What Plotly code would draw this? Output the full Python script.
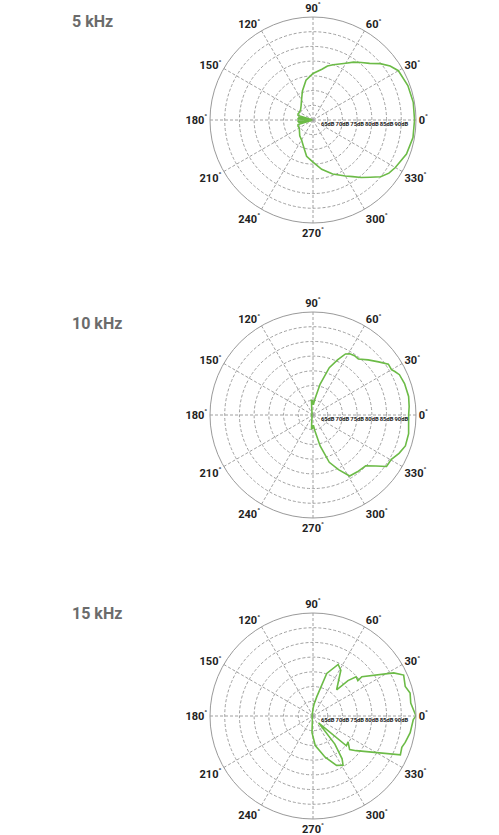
import plotly.graph_objects as go

# ---------------- data ----------------
titles = ["5 kHz", "10 kHz", "15 kHz"]

theta_5k = [0, 10, 20, 30, 35, 40, 45, 50, 55, 60, 70, 75, 80, 90, 100, 110, 120, 130, 140,
            150, 158, 163, 166, 170, 176, 180, 184, 190, 194, 197, 202, 210, 220, 230, 240,
            250, 260, 270, 280, 290, 300, 305, 310, 315, 320, 325, 330, 340, 350, 360]
r_5k = [94.5, 94.6, 94.3, 93.5, 92.0, 89.8, 87.2, 85.5, 84.0, 82.3, 80.0, 79.0, 77.5, 75.8,
        73.7, 70.5, 67.8, 66.3, 65.5, 65.3, 65.5, 65.3, 60.3, 64.8, 65.2, 60.2, 65.2, 64.8,
        60.3, 65.3, 65.5, 65.4, 66.0, 67.0, 67.8, 69.5, 72.5, 74.3, 77.0, 79.5, 82.0, 83.5,
        85.5, 87.5, 90.0, 91.5, 92.3, 93.8, 94.5, 94.5]

theta_10k = [0, 5, 11, 19, 25, 28, 30, 34, 39, 45, 51, 55, 59, 62, 66, 71, 77, 83, 88, 92,
             96, 100, 110, 130, 180, 230, 250, 260, 264, 268, 272, 277, 283, 289, 295, 301,
             308, 316, 321, 325, 330.5, 336, 341.5, 349, 360]
r_10k = [92.5, 92.8, 93.1, 92.9, 92.4, 91.5, 90.8, 90.9, 88.7, 86.5, 84.5, 84.6, 84.3, 83.5,
         80.5, 77.0, 70.8, 65.6, 63.5, 64.8, 65.0, 62.5, 61.0, 60.5, 60.5, 60.5, 61.0, 62.5,
         64.8, 64.5, 63.5, 65.5, 70.8, 77.0, 80.5, 84.2, 84.5, 84.9, 87.5, 90.5, 90.6, 92.0,
         93.1, 93.1, 92.5]

theta_15k = [0, 7.5, 13.3, 17.7, 24.3, 28.1, 38.8, 38.2, 42.3, 45.3, 48, 58.7, 64, 72.1,
             78.7, 85, 90, 100, 120, 180, 240, 255, 262, 266.6, 274.4, 286.4, 295.5, 301.4,
             304.2, 307.9, 309, 318.3, 323.6, 317.4, 321.2, 336, 340.6, 344, 350.3, 358, 360]
r_15k = [95.0, 93.5, 93.9, 92.9, 93.8, 91.1, 81.3, 79.4, 79.8, 76.9, 72.0, 78.2, 79.5, 75.2,
         66.8, 64.0, 62.5, 61.0, 60.5, 60.3, 60.5, 61.0, 61.5, 65.7, 70.1, 74.6, 78.6, 79.6,
         77.6, 72.1, 63.0, 75.2, 74.8, 76.9, 78.8, 92.5, 92.0, 92.6, 93.5, 94.1, 95.0]

angle_ticks = [0, 30, 60, 90, 120, 150, 180, 210, 240, 270, 300, 330]
angle_labels = [f"{a}<sup>°</sup>" for a in angle_ticks]
db_ticks = [65, 70, 75, 80, 85, 90]
db_labels = [f"{d}dB" for d in db_ticks]
db_range = [60, 95]

series = [(theta_5k, r_5k), (theta_10k, r_10k), (theta_15k, r_15k)]

# ---------------- layout geometry ----------------
W, H = 499, 835
R = 103
cx = 313
centers_y = [120, 415, 716]
title_y = [21, 323, 613]

LINE_GREEN = "#6cbb47"
GRID = "#a0a0a0"
FONT = "Roboto, Liberation Sans, sans-serif"

fig = go.Figure()
layout = dict(
    width=W, height=H,
    margin=dict(l=0, r=0, t=0, b=0),
    paper_bgcolor="white",
    showlegend=False,
    font=dict(family=FONT, color="#222"),
)

for i, (th, rr) in enumerate(series):
    pname = "polar" if i == 0 else f"polar{i+1}"
    fig.add_trace(go.Scatterpolar(
        theta=th, r=rr, mode="lines",
        line=dict(color=LINE_GREEN, width=1.6),
        subplot=pname, hoverinfo="skip",
    ))
    cy = centers_y[i]
    layout[pname] = dict(
        domain=dict(x=[(cx - R) / W, (cx + R) / W],
                    y=[(H - cy - R) / H, (H - cy + R) / H]),
        bgcolor="white",
        radialaxis=dict(
            range=db_range, tickvals=db_ticks, ticktext=db_labels,
            angle=0, tickangle=0, showline=False, ticks="",
            showgrid=True, gridcolor=GRID, gridwidth=0.8, griddash="3px,2px",
            tickfont=dict(size=5.8, color="#222", family=FONT, weight="bold"),
        ),
        angularaxis=dict(
            rotation=0, direction="counterclockwise",
            tickvals=angle_ticks, ticktext=angle_labels, ticks="",
            showline=True, linecolor="#9a9a9a", linewidth=1,
            showgrid=True, gridcolor=GRID, gridwidth=0.8, griddash="3px,2px",
            tickfont=dict(size=11, color="#222", family=FONT, weight="bold"),
        ),
    )

annotations = []
for i, t in enumerate(titles):
    annotations.append(dict(
        text=t, x=70 / W, y=1 - title_y[i] / H,
        xref="paper", yref="paper", xanchor="left", yanchor="middle",
        showarrow=False,
        font=dict(size=16, color="#6b6b6b", family=FONT, weight="bold"),
    ))
layout["annotations"] = annotations

fig.update_layout(**layout)
fig.write_html(
    "out.html",
    config={"displayModeBar": False},
    post_script="document.body.style.margin='0';document.body.style.overflow='hidden';",
)
